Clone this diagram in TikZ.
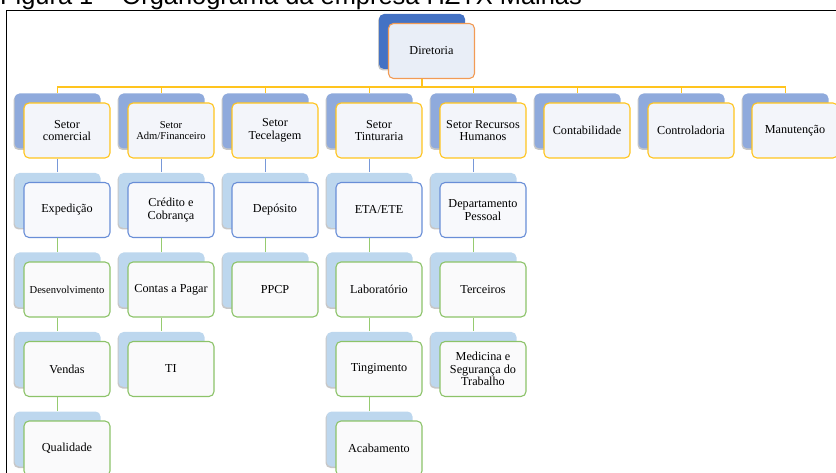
\documentclass[tikz,border=0pt]{standalone}
\usepackage{fontspec}
\setmainfont{Liberation Serif}
\newfontfamily\titlefont{Liberation Sans}
\usetikzlibrary{shadows}
\definecolor{dirblue}{RGB}{68,114,196}
\definecolor{setblue}{RGB}{143,170,220}
\definecolor{subblue}{RGB}{189,215,238}
\definecolor{myorange}{RGB}{242,155,85}
\definecolor{mygold}{RGB}{255,196,30}
\definecolor{myblue}{RGB}{105,142,215}
\definecolor{mygreen}{RGB}{140,195,105}
\definecolor{linegreen}{RGB}{150,203,112}
\definecolor{lineblue}{RGB}{120,152,216}
\definecolor{dirfill}{RGB}{233,238,247}
\definecolor{setfill}{RGB}{243,245,250}
\definecolor{subfill}{RGB}{248,249,252}
\definecolor{itemfill}{RGB}{250,250,251}

\begin{document}
\begin{tikzpicture}[x=1pt,y=-1pt,
  box/.style={rectangle,rounded corners=5pt,draw,line width=1.1pt,
              minimum width=86pt,minimum height=55pt,inner sep=1pt,
              align=center,font=\fontsize{12.2}{12.7}\selectfont},
  back/.style={general shadow={fill=black,opacity=.22,shadow xshift=-10.5pt,shadow yshift=8pt},
               general shadow={fill=#1,shadow xshift=-9.5pt,shadow yshift=9.5pt}},
  dirbox/.style={box,draw=myorange,fill=dirfill,back=dirblue},
  setbox/.style={box,draw=mygold,fill=setfill,back=setblue},
  subbox/.style={box,draw=myblue,fill=subfill,back=subblue},
  itembox/.style={box,draw=mygreen,fill=itemfill,back=subblue},
  shrunk/.style={font=\fontsize{10.6}{11.8}\selectfont},
  link/.style={line width=1.3pt}]
\useasboundingbox (0,0) rectangle (836,473);
\clip (0,0) rectangle (836,473);

% caption and frame
\node[anchor=base west,inner sep=0,font=\titlefont\fontsize{25.4}{25}\selectfont]
  (titulo) at (0,5) {Figura 1 – Organograma da empresa HZTX Malhas};
\draw[line width=1.3pt] (6.5,490) |- (850,10.5);

% top
\node[dirbox] (dir) at (431.5,51) {Diretoria};

% setores
\node[setbox] (com) at (67,130.5) {Setor\\comercial};
\node[setbox,shrunk] (adm) at (171,130.5) {Setor\\Adm/Financeiro};
\node[setbox] (tec) at (275,130.5) {Setor\\Tecelagem};
\node[setbox] (tin) at (379,130.5) {Setor\\Tinturaria};
\node[setbox] (rh) at (483,130.5) {Setor Recursos\\Humanos};
\node[setbox] (cont) at (587,130.5) {Contabilidade};
\node[setbox] (ctrl) at (691,130.5) {Controladoria};
\node[setbox] (man) at (795,130.5) {Manutenção};

% second row
\node[subbox] (exp) at (67,210) {Expedição};
\node[subbox] (cred) at (171,210) {Crédito e\\Cobrança};
\node[subbox] (dep) at (275,210) {Depósito};
\node[subbox] (eta) at (379,210) {ETA/ETE};
\node[subbox] (dp) at (483,210) {Departamento\\Pessoal};

% lower rows
\node[itembox,shrunk] (des) at (67,289.5) {Desenvolvimento};
\node[itembox] (ven) at (67,369) {Vendas};
\node[itembox] (qual) at (67,448.5) {Qualidade};
\node[itembox] (cp) at (171,289.5) {Contas a Pagar};
\node[itembox] (ti) at (171,369) {TI};
\node[itembox] (ppcp) at (275,289.5) {PPCP};
\node[itembox] (lab) at (379,289.5) {Laboratório};
\node[itembox] (ting) at (379,369) {Tingimento};
\node[itembox] (acab) at (379,448.5) {Acabamento};
\node[itembox] (terc) at (483,289.5) {Terceiros};
\node[itembox] (med) at (483,369) {Medicina e\\Segurança do\\Trabalho};

% connectors
\draw[link,mygold] ([xshift=-9.5pt]dir.south) -- ++(0,8) coordinate (bar);
\foreach \s in {com,adm,tec,tin,rh,cont,ctrl,man}
  \draw[link,mygold] (bar) -| ([xshift=-9.5pt,yshift=9.5pt]\s.north);
\foreach \a/\b in {com/exp,adm/cred,tec/dep,tin/eta,rh/dp}
  \draw[link,lineblue] ([xshift=-9.5pt]\a.south) -- ([xshift=-9.5pt,yshift=9.5pt]\b.north);
\foreach \a/\b in {exp/des,des/ven,ven/qual,cred/cp,cp/ti,dep/ppcp,
                   eta/lab,lab/ting,ting/acab,dp/terc,terc/med}
  \draw[link,linegreen] ([xshift=-9.5pt]\a.south) -- ([xshift=-9.5pt,yshift=9.5pt]\b.north);
\end{tikzpicture}
\end{document}
